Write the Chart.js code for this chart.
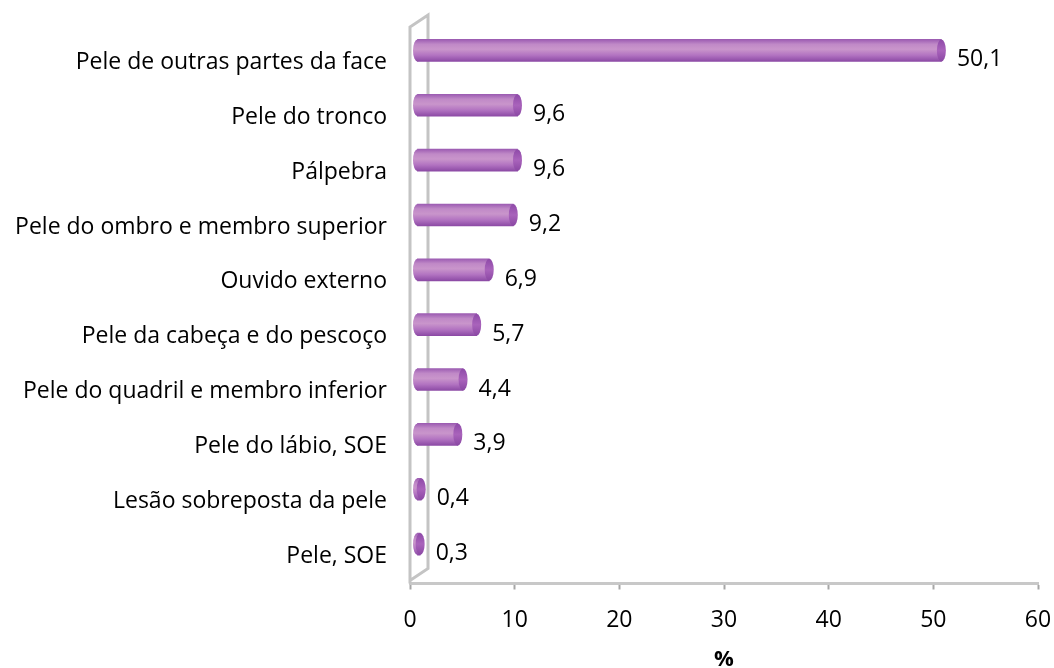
<!DOCTYPE html>
<html lang="pt">
<head>
<meta charset="UTF-8">
<title>Localização</title>
<script src="https://cdn.jsdelivr.net/npm/chart.js"></script>
<style>
  html, body { margin: 0; padding: 0; background: #fff; }
  #wrap { width: 1054px; height: 668px; }
</style>
</head>
<body>
<div id="wrap"><canvas id="chart" width="1054" height="668"></canvas></div>
<script>
// data
const categories = [
  'Pele de outras partes da face',
  'Pele do tronco',
  'Pálpebra',
  'Pele do ombro e membro superior',
  'Ouvido externo',
  'Pele da cabeça e do pescoço',
  'Pele do quadril e membro inferior',
  'Pele do lábio, SOE',
  'Lesão sobreposta da pele',
  'Pele, SOE'
];
const values = [50.1, 9.6, 9.6, 9.2, 6.9, 5.7, 4.4, 3.9, 0.4, 0.3];
const xTicks = [0, 10, 20, 30, 40, 50, 60];

const FONT = '"Open Sans", Lato, sans-serif';
const DX = 7, DY = -12;   // fake 3D depth shift of the bars
const CAP = 4.5;

function barGradient(ctx, yc, h) {
  const g = ctx.createLinearGradient(0, yc - h / 2, 0, yc + h / 2);
  g.addColorStop(0, '#9c5cb2');
  g.addColorStop(0.22, '#c089c7');
  g.addColorStop(0.45, '#c995cb');
  g.addColorStop(0.72, '#b273c1');
  g.addColorStop(1, '#8c4aa5');
  return g;
}

// back wall + bar shift + caps + value labels
const pseudo3d = {
  id: 'pseudo3d',
  beforeDatasetsDraw(chart) {
    const { ctx, chartArea, scales } = chart;
    const x0 = scales.x.getPixelForValue(0);
    const top = chartArea.top, bottom = chartArea.bottom;
    ctx.save();
    ctx.strokeStyle = '#c4c4c4';
    ctx.lineWidth = 3;
    ctx.beginPath();
    ctx.moveTo(x0, bottom);
    ctx.lineTo(x0, top - 8);
    ctx.lineTo(x0 + 18, top - 20);
    ctx.lineTo(x0 + 18, bottom - 15);
    ctx.lineTo(x0, bottom - 3);
    ctx.stroke();
    ctx.restore();

    ctx.save();
    ctx.translate(DX, DY);
  },
  afterDatasetsDraw(chart) {
    const { ctx } = chart;
    const meta = chart.getDatasetMeta(0);
    meta.data.forEach(el => {
      const h = el.height;
      // rounded start
      ctx.fillStyle = barGradient(ctx, el.y, h);
      ctx.beginPath();
      ctx.ellipse(el.base, el.y, CAP, h / 2, 0, 0, Math.PI * 2);
      ctx.fill();
      // end cap
      const g = ctx.createLinearGradient(0, el.y - h / 2, 0, el.y + h / 2);
      g.addColorStop(0, '#8e4aa8');
      g.addColorStop(0.5, '#a963bb');
      g.addColorStop(1, '#8a47a3');
      ctx.fillStyle = g;
      ctx.beginPath();
      ctx.ellipse(el.x, el.y, CAP, h / 2, 0, 0, Math.PI * 2);
      ctx.fill();
    });
    ctx.restore();

    ctx.save();
    ctx.font = '23px ' + FONT;
    ctx.fillStyle = '#000';
    ctx.textBaseline = 'middle';
    ctx.textAlign = 'left';
    meta.data.forEach((el, i) => {
      const txt = values[i].toFixed(1).replace('.', ',');
      ctx.fillText(txt, el.x + DX + CAP + 11, el.y - 2.5);
    });
    ctx.restore();
  }
};

new Chart(document.getElementById('chart'), {
  type: 'bar',
  data: {
    labels: categories,
    datasets: [{
      data: values,
      barThickness: 22,
      borderWidth: 0,
      backgroundColor: c => {
        const ch = c.chart;
        if (!ch.chartArea || !ch.scales.y) return '#b070c0';
        const yc = ch.scales.y.getPixelForValue(c.dataIndex);
        return barGradient(ch.ctx, yc, 22);
      }
    }]
  },
  options: {
    indexAxis: 'y',
    responsive: false,
    animation: false,
    layout: { padding: { top: 35, right: 16, bottom: 0, left: 0 } },
    plugins: {
      legend: { display: false },
      tooltip: { enabled: false }
    },
    scales: {
      x: {
        min: 0,
        max: 60,
        afterFit: s => {
          s.height = 84.5;
          s.paddingLeft = 0;
          s.paddingRight = 0;
        },
        afterBuildTicks: s => { s.ticks = xTicks.map(v => ({ value: v })); },
        ticks: {
          color: '#000',
          font: { family: FONT, size: 23 },
          padding: 17,
          maxRotation: 0
        },
        grid: {
          drawOnChartArea: false,
          color: '#a6a6a6',
          tickLength: 6,
          tickWidth: 2
        },
        border: { color: '#c8c8c8', width: 3 },
        title: {
          display: true,
          text: '%',
          color: '#000',
          font: { family: FONT, size: 22, weight: 'bold' },
          padding: { top: 0, bottom: -5 }
        }
      },
      y: {
        afterFit: s => {
          s.width = 410;
          s.paddingTop = 0;
          s.paddingBottom = 0;
        },
        ticks: {
          color: '#000',
          font: { family: FONT, size: 23 },
          padding: 23
        },
        grid: { display: false, drawTicks: false },
        border: { display: false }
      }
    }
  },
  plugins: [pseudo3d]
});
</script>
</body>
</html>
